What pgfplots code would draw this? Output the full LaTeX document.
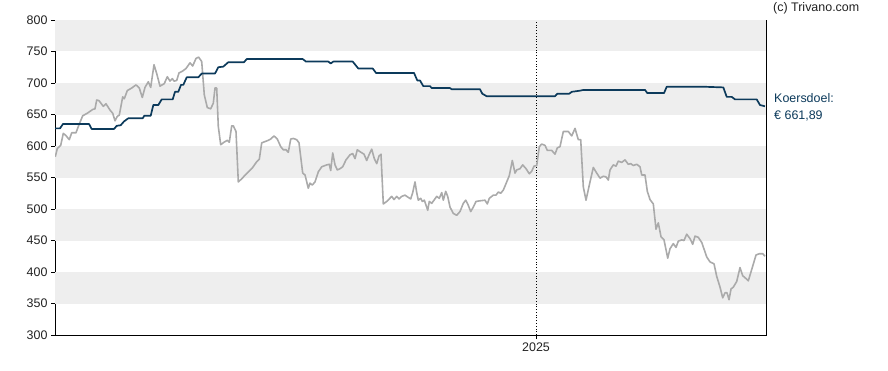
\documentclass[border=0pt]{standalone}
\usepackage{pgfplots}
\pgfplotsset{compat=1.18}
\usepackage{fontspec}
\setmainfont{Liberation Sans}
\definecolor{band}{HTML}{EEEEEE}
\definecolor{target}{HTML}{0C3A5B}
\definecolor{price}{HTML}{AAAAAA}
\definecolor{txt}{HTML}{222222}
\newcommand\lblfont{\fontsize{12.5}{14}\selectfont}
\begin{document}
\begin{tikzpicture}[x=1bp,y=1bp]
\path[use as bounding box] (0,0) rectangle (888,370);
\begin{axis}[
  at={(55bp,35bp)}, anchor=south west,
  scale only axis, width=711bp, height=315bp,
  xmin=55, xmax=766, ymin=300, ymax=800,
  ytick={300,350,...,800},
  xtick={536}, xticklabels={2025},
  ytick pos=left, xtick pos=bottom,
  tick align=outside, major tick length=4bp,
  tick style={black, line width=0.8pt},
  axis line style={black, line width=0.9pt},
  tick label style={font=\lblfont, text=txt},
  /pgf/number format/assume math mode=true,
  /pgf/number format/1000 sep={},
  clip=true,
]
\fill[band] (axis cs:55,750) rectangle (axis cs:766,800);
\fill[band] (axis cs:55,650) rectangle (axis cs:766,700);
\fill[band] (axis cs:55,550) rectangle (axis cs:766,600);
\fill[band] (axis cs:55,450) rectangle (axis cs:766,500);
\fill[band] (axis cs:55,350) rectangle (axis cs:766,400);
\draw[black, dotted, line width=0.8pt] (axis cs:536,300) -- (axis cs:536,800);
\addplot[price, line width=1.6pt, line join=round] coordinates {
(55.3,583)(57.3,596)(60.7,601)(63.3,620)(65.7,617)(69.3,610)(71.7,621)(76,621)(78.3,631)(82.7,648)(87.3,652)(92.7,658)(95,659)(96.7,673)(99,672)(103.3,663)(106,667)(110,657)(112.7,652)(115,640)(117.3,647)(119.3,649)(122.7,678)(124.3,675)(127.3,688)(131.7,692)(136,697)(139.3,692)(142.3,677)(145,693)(148.3,702)(150.7,693)(154,729)(156.7,715)(160,695)(164.3,699)(167.3,710)(170,703)(172.3,707)(174,703)(176.7,704)(179,716)(182.7,719)(186,723)(190,732)(192.7,727)(196,739)(198.7,741)(201.7,734)(204.3,681)(207.3,661)(210.7,659)(213.3,668)(215,692)(216.7,692)(218.3,631)(220.7,602)(224,606)(227.3,609)(229.3,606)(231.7,632)(233.3,632)(236,623)(238.3,543)(241.7,548)(248.3,559)(252.7,566)(256.7,575)(259.3,579)(261.7,605)(265,607)(268.3,609)(270.7,611)(274,616)(277.3,611)(280.7,599)(283.3,594)(286,594)(288.3,590)(290.7,611)(293.3,612)(296.7,610)(299,605)
(302.7,557)(305,554)(308.3,533)(310,541)(312.3,538)(315,543)(318.3,559)(321.7,567)(326.7,570)(329.3,571)(330.7,561)(332.7,589)(335,570)(337.3,562)(340,564)(342.7,567)(346,578)(350,586)(352.7,588)(355,580)(357.3,594)(360,591)(364,587)(366.7,577)(369.3,587)(371.7,595)(374.3,580)(376.7,572)(379,584)(381,587)(383.3,508)(386.7,512)(391.7,520)(394,515)(396.7,520)(399,516)(401.7,520)(405,522)(407.7,519)(410.7,516)(412.7,526)(415,543)(416.7,526)(418.3,514)(420.7,517)(422.3,512)(424.3,514)(426,506)(427.7,498)(429.3,512)(431.7,509)(434,514)(436.7,520)(439.3,517)(441.7,526)(443.3,514)(445.7,528)(447.7,520)(450,503)(453.3,493)(456.7,490)(460,496)(463.3,509)(465.7,514)(467.7,508)(470.7,496)(473.3,503)(476,512)(480,513)(485,514)(487.3,508)(489.3,517)(493.3,522)(496,522)(498.3,527)(500.7,525)(503.3,530)(506.7,543)(509.3,553)(512.3,577)(515,557)(516.7,562)(520,564)(522.7,570)(526,564)(529.3,556)(531.7,560)(534,568)(536.7,569)(539.3,599)(541.7,603)(545,601)(547.3,593)(551.7,593)(555,587)(557.3,597)(560,599)
(563.3,623)(568.3,623)(571.7,616)(575,628)(578.3,610)(580.7,610)(583.3,535)(586,514)(589.3,538)(593.3,566)(596.7,557)(600,549)(603.3,552)(606,551)(608.3,546)(610,562)(613.3,570)(616,568)(618.3,576)(621.7,574)(625,578)(628.3,571)(630.7,572)(633.3,569)(636.7,571)(640,567)(641.7,554)(645,554)(647.3,528)(650,515)(653.3,508)(656,468)(658.3,478)(661,456)(664,451)(667.7,422)(670,437)(673.3,445)(676,439)(678.3,449)(681.7,451)(684,450)(686.7,460)(690,453)(692.7,444)(695,457)(698.3,455)(701.7,447)(706.7,424)(710,416)(714,413)(716.7,393)(720,376)(722.7,359)(725,367)(727,367)(729,356)(731,373)(733.3,376)(736.7,385)(740,407)(742.7,394)(745,391)(748.3,386)(751.7,404)(756,427)(759.3,429)(762.7,429)(765,425)
};
\addplot[target, line width=1.7pt, line join=round] coordinates {
(55,628)(60,628)(63,635)(89,635)(91.7,627)(114,627)(116.7,632)(120.7,633)(124,639)(128.3,644)(142.7,644)(144.3,648)(150.7,648)(153.3,665)(158.3,665)(161.7,674)(172.7,674)(175,686)(178.3,686)(181,697)(183.3,697)(186.7,709)(198.3,709)(201.7,715)(215,715)(218.3,725)(223.3,726)(228.3,733)(244,733)(246.7,738)(302.7,738)(306,734)(328.3,734)(330.7,731)(333.3,734)(352.7,734)(358.3,723)(372.7,723)(376,716)(414,716)(417.3,704)(420,704)(423.3,695)(430,695)(431.7,692)(450,692)(451.7,690)(480,690)(482.3,683)(486.7,679)(555,679)(557.3,683)(569.3,683)(571.7,686)(580.7,688)(583.3,689)(645,689)(647.3,684)(664,684)(666.7,694)(705,694)(723.3,693)(726.7,678)(731.7,678)(735,674)(756.7,674)(760,665)(765,663)
};
\end{axis}
\node[anchor=west, text=txt, font=\lblfont, inner sep=0pt] at (773,362) {(c) Trivano.com};
\node[anchor=west, text=target, font=\lblfont, inner sep=0pt] at (774,272) {Koersdoel:};
\node[anchor=west, text=target, font=\lblfont, inner sep=0pt] at (774,254) {€ 661,89};
\end{tikzpicture}
\end{document}
